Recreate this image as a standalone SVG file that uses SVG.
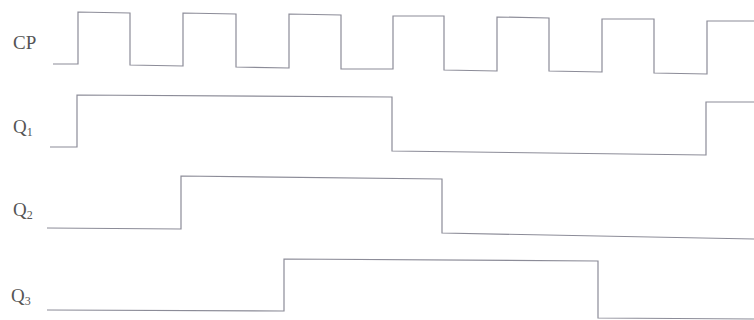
<svg xmlns="http://www.w3.org/2000/svg" width="754" height="320" viewBox="0 0 754 320">
<style>
.sig{fill:none;stroke:#8c8c98;stroke-width:1.2;stroke-linejoin:miter}
.lbl{font-family:"Liberation Serif","Times New Roman",serif;font-size:19px;fill:#555}
.sub{font-size:12px}
</style>
<rect width="754" height="320" fill="#fff"/>
<g id="CP">
<text class="lbl" x="13" y="49">CP</text>
<polyline class="sig" points="53,64 78,64 78,12 130,13 130,65 183,66 183,13 236,14 236,67 289,68 289,14 341,15 341,69 393,69 393,16 444,16 444,70 497,71 497,17 549,18 549,71 602,72 602,19 654,19 654,73 707,74 707,21 754,21"/>
</g>
<g id="Q1">
<text class="lbl" x="13" y="133">Q<tspan class="sub" dy="3">1</tspan></text>
<polyline class="sig" points="50,147 77,147 77,95 392,97 392,151 706,155 706,102 754,102"/>
</g>
<g id="Q2">
<text class="lbl" x="13" y="216">Q<tspan class="sub" dy="3">2</tspan></text>
<polyline class="sig" points="47,228 181,229 181,176 442,179 442,233 754,239"/>
</g>
<g id="Q3">
<text class="lbl" x="11" y="302">Q<tspan class="sub" dy="3">3</tspan></text>
<polyline class="sig" points="47,310 284,311 284,259 598,261 598,318 754,319"/>
</g>
<g id="connectors"></g>
</svg>
